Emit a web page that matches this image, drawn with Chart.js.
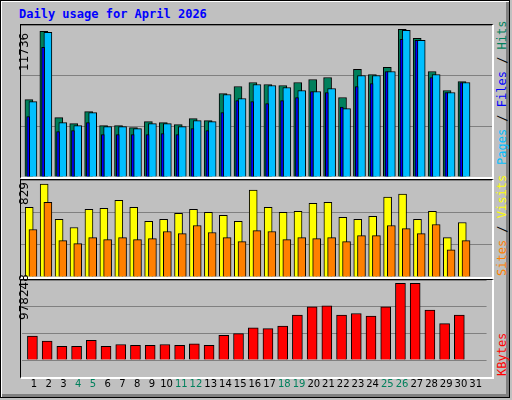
<!DOCTYPE html>
<html><head><meta charset="utf-8">
<script src="https://cdn.jsdelivr.net/npm/chart.js@4"></script>
<style>
html,body{margin:0;padding:0;}
body{width:512px;height:400px;background:#c0c0c0;position:relative;overflow:hidden;font-family:"DejaVu Sans Mono",monospace;}
#frame{position:absolute;left:0;top:0;width:508px;height:396px;border:1px solid #000;box-shadow:inset 1px 1px 0 #fff,inset -3px -3px 0 #808080;}
.panel{position:absolute;left:20px;width:471px;border-top:1px solid #000;border-left:1px solid #000;border-right:2px solid #fff;border-bottom:2px solid #fff;}
canvas{position:absolute;left:0;top:0;}
.rot{position:absolute;transform:rotate(-90deg);transform-origin:left top;white-space:nowrap;font-size:12px;}
#title{position:absolute;left:19px;top:7px;color:#0000ff;font-weight:bold;font-size:12px;}
</style></head><body>
<div id="frame"></div>
<div id="title">Daily usage for April 2026</div>
<div class="panel" style="top:24px;height:152px"><canvas id="c1" width="471" height="152"></canvas></div>
<div class="panel" style="top:179px;height:97px"><canvas id="c2" width="471" height="97"></canvas></div>
<div class="panel" style="top:279px;height:97px"></div>
<canvas id="c3" width="471" height="120" style="left:21px;top:280px"></canvas>
<div class="rot" style="left:17px;top:71px;color:#000;font-family:'DejaVu Sans'">11736</div>
<div class="rot" style="left:17px;top:205px;color:#000;font-family:'DejaVu Sans'">829</div>
<div class="rot" style="left:17px;top:320px;color:#000;font-family:'DejaVu Sans'">978248</div>
<div class="rot" style="left:495px;top:165px"><span style="color:#00bfff">Pages</span> / <span style="color:#0000ff">Files</span> / <span style="color:#00805c">Hits</span></div>
<div class="rot" style="left:495px;top:276px"><span style="color:#ff8000">Sites</span> / <span style="color:#ffff00">Visits</span></div>
<div class="rot" style="left:495px;top:376px;color:#ff0000">KBytes</div>
<script>
const days=[1,2,3,4,5,6,7,8,9,10,11,12,13,14,15,16,17,18,19,20,21,22,23,24,25,26,27,28,29,30,31];
const weekendDays=[4,5,11,12,18,19,25,26];
const hits=[5980,11248,4586,4121,5050,3966,3966,3811,4276,4199,4044,4509,4354,6445,6988,7297,7142,7065,7297,7530,7684,6135,8304,7917,8459,11403,10706,8149,6677,7375];
const files=[5825,11170,4199,3966,4973,3889,3889,3734,4121,4121,3889,4354,4276,6368,6058,7142,7065,6910,6677,6600,6832,5283,7839,7839,8149,11326,10551,7917,6523,7297];
const pages=[4663,10009,3501,3579,4199,3269,3269,3269,3269,3346,3269,3734,3579,4973,5903,5825,5670,5903,6135,6600,6523,5407,6988,7220,8149,10628,10551,7684,6523,7297];
const visits=[596,794,492,423,579,587,656,596,475,492,544,579,553,527,475,743,596,553,561,630,639,509,492,518,682,708,492,561,337,466];
const sites=[406,639,311,285,337,319,337,319,328,389,371,440,380,337,302,397,389,319,337,328,337,302,354,354,440,414,371,449,233,311];
const kbytes=[291000,230000,168000,168000,240000,168000,189000,178000,178000,189000,178000,199000,178000,302000,322000,394000,384000,415000,548000,651000,661000,548000,569000,538000,651000,938000,938000,610000,445000,548000];
const maxHits=11736, maxVisits=829, maxKB=978248;

const XMIN=0.2, XMAX=31.74;
const pts=(arr,off)=>arr.map((v,i)=>({x:days[i]+off,y:v}));
function ds(arr,off,color,w,order){return{data:pts(arr,off),backgroundColor:color,borderColor:'#000',borderWidth:1,barThickness:w,grouped:false,order:order};}
function yScale(max){return{min:0,max:max,ticks:{display:false,stepSize:max/3},grid:{color:'#808080',drawTicks:false,lineWidth:1},border:{display:false}};}
function opts(max,showX){
 return{responsive:false,animation:false,events:[],
  layout:{padding:0},
  plugins:{legend:{display:false},tooltip:{enabled:false}},
  scales:{
   x:{type:'linear',min:XMIN,max:XMAX,display:showX,offset:false,
      afterBuildTicks:s=>{s.ticks=days.map(d=>({value:d}));},
      ticks:{autoSkip:false,maxRotation:0,font:{family:'DejaVu Sans',size:10},padding:10,
        color:c=>weekendDays.includes(c.tick.value)?'#00805c':'#000',callback:v=>String(v)},
      grid:{display:false},border:{display:false}},
   y:yScale(max)}};
}
new Chart(document.getElementById('c1'),{type:'bar',data:{datasets:[
 ds(hits,-0.27,'#00805c',8,3),ds(files,0,'#00bfff',8,2),ds(pages,-0.32,'#0000ff',3,1)]},options:opts(maxHits,false)});
new Chart(document.getElementById('c2'),{type:'bar',data:{datasets:[
 ds(visits,-0.25,'#ffff00',8,2),ds(sites,0,'#ff8000',8,1)]},options:opts(maxVisits,false)});
new Chart(document.getElementById('c3'),{type:'bar',data:{datasets:[
 ds(kbytes,-0.11,'#ff0000',10,1)]},options:opts(maxKB,true)});
</script>
</body></html>
